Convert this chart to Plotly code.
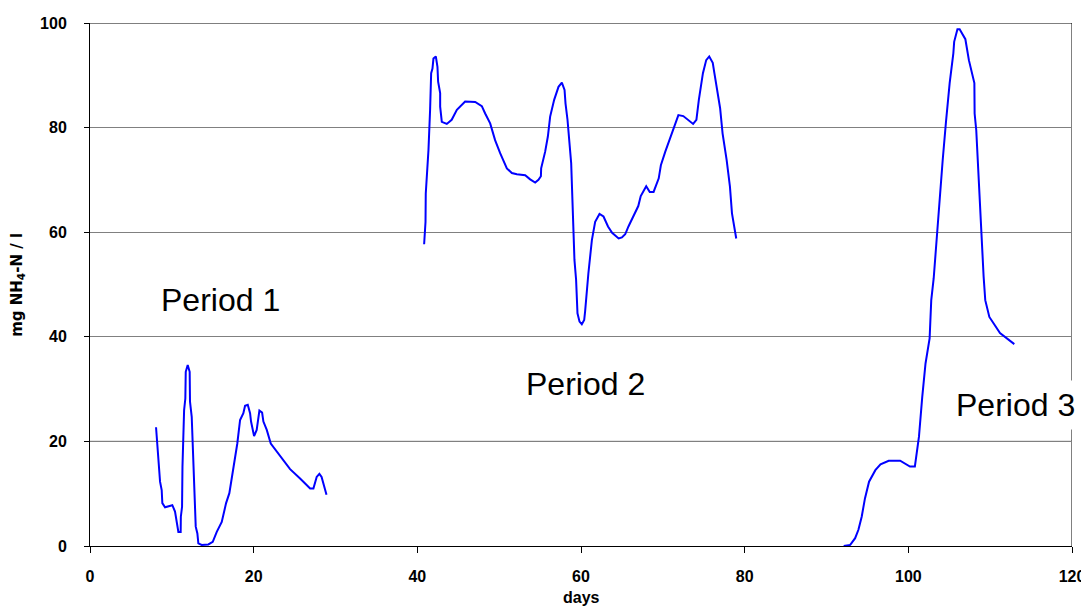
import plotly.graph_objects as go

# Period 1
p1_days = [8.07, 8.56, 8.76, 8.84, 9.17, 9.78, 10.06, 10.39, 10.6, 10.8, 11.08, 11.1, 11.25, 11.3,
           11.5, 11.65, 11.7, 11.94, 12.18, 12.22, 12.43, 12.63, 12.84, 12.92, 13.12, 13.24, 13.65,
           14.46, 15.0, 15.49, 16.1, 16.63, 17.03, 17.52, 18.0, 18.34, 18.74, 18.95, 19.28, 19.56,
           19.68, 20.05, 20.37, 20.7, 21.03, 21.19, 21.6, 22.09, 23.2, 24.45, 25.67, 26.9, 27.3,
           27.7, 28.03, 28.3, 28.9]
p1_vals = [22.7, 12.3, 10.7, 8.2, 7.4, 7.7, 7.8, 6.6, 4.3, 2.7, 2.7, 5.6, 7.5, 15.2,
           26.0, 28.2, 33.3, 34.6, 33.3, 27.6, 24.7, 15.2, 9.4, 3.7, 2.4, 0.5, 0.2,
           0.3, 0.8, 2.7, 4.6, 8.2, 10.1, 14.9, 19.6, 24.1, 25.4, 26.8, 27.0, 25.4,
           23.8, 21.0, 22.2, 25.9, 25.5, 23.8, 22.2, 19.6, 17.4, 14.7, 12.9, 11.0, 11.0,
           13.2, 13.8, 13.2, 9.8]

# Period 2
p2_days = [40.83, 41.0, 41.03, 41.36, 41.56, 41.69, 41.85, 41.97, 42.26, 42.46, 42.54, 42.79, 42.79,
           42.99, 43.6, 44.2, 44.83, 45.84, 47.07, 47.88, 48.29, 48.9, 49.5, 50.12, 50.94, 51.55,
           52.16, 53.18, 53.79, 54.4, 54.8, 55.1, 55.13, 55.62, 55.95, 56.23, 56.72, 57.25, 57.66,
           57.99, 58.11, 58.35, 58.8, 59.0, 59.2, 59.4, 59.57, 59.82, 60.1, 60.39, 60.5, 60.9,
           61.33, 61.73, 62.26, 62.75, 63.3, 63.8, 64.6, 65.0, 65.4, 65.8, 66.4, 67.0, 67.3,
           67.97, 68.4, 68.87, 69.5, 69.76, 70.3, 70.9, 71.5, 71.9, 72.5, 73.1, 73.7, 74.1,
           74.4, 74.9, 75.3, 75.67, 76.1, 76.3, 76.6, 77.0, 77.3, 77.8, 78.2, 78.45, 78.97]
p2_vals = [57.7, 62.0, 67.4, 75.7, 83.4, 90.4, 91.3, 93.2, 93.6, 91.6, 88.8, 86.6, 84.0,
           81.1, 80.7, 81.5, 83.4, 85.0, 84.9, 84.1, 82.7, 80.8, 77.6, 75.1, 72.2, 71.3,
           71.1, 70.9, 70.1, 69.5, 70.0, 70.7, 72.2, 75.4, 78.3, 82.1, 85.3, 87.8, 88.6,
           87.2, 84.6, 81.5, 73.2, 64.9, 54.7, 50.9, 44.5, 42.9, 42.4, 43.2, 44.8, 52.1,
           58.5, 62.0, 63.5, 63.0, 61.1, 59.9, 58.8, 59.0, 59.6, 61.1, 63.0, 65.0, 66.9,
           68.8, 67.7, 67.7, 70.3, 72.8, 75.4, 78.0, 80.5, 82.4, 82.2, 81.5, 80.7, 81.5,
           85.3, 90.4, 92.9, 93.6, 92.4, 90.4, 87.8, 83.7, 78.9, 73.8, 68.7, 63.6, 58.8]

# Period 3
p3_days = [92.1, 92.9, 93.5, 93.9, 94.3, 94.7, 95.2, 95.55, 95.97, 96.6, 97.6, 99.0, 99.76,
           100.2, 100.8, 101.3, 101.7, 102.1, 102.6, 102.8, 103.1, 103.5, 103.8, 104.2, 104.6,
           105.05, 105.5, 105.6, 106.0, 106.27, 106.97, 107.4, 108.07, 108.1, 108.3, 108.8,
           109.2, 109.4, 109.9, 111.2, 112.95]
p3_vals = [0.0, 0.2, 1.5, 3.1, 5.6, 9.1, 12.3, 13.3, 14.5, 15.6, 16.3, 16.3, 15.5,
           15.2, 15.2, 20.9, 28.5, 34.9, 39.7, 47.0, 51.2, 59.8, 65.2, 73.8, 81.1,
           88.5, 94.2, 96.4, 98.8, 98.8, 96.9, 92.9, 88.5, 82.7, 79.5, 62.3,
           51.5, 47.0, 43.8, 40.7, 38.6]

x_ticks = [0, 20, 40, 60, 80, 100, 120]
y_ticks = [0, 20, 40, 60, 80, 100]

fig = go.Figure()
for d, v in [(p1_days, p1_vals), (p2_days, p2_vals), (p3_days, p3_vals)]:
    fig.add_trace(go.Scatter(x=d, y=v, mode="lines",
                             line=dict(color="#0000FF", width=2), showlegend=False))

# right border and darker lines
fig.add_shape(type="line", xref="x", yref="y", x0=120, x1=120, y0=0, y1=100,
              line=dict(color="#808080", width=2), layer="below")
fig.add_shape(type="line", xref="x", yref="y", x0=0, x1=120, y0=100, y1=100,
              line=dict(color="black", width=1), layer="below")
fig.add_shape(type="line", xref="x", yref="y", x0=0, x1=120, y0=20, y1=20,
              line=dict(color="black", width=1), layer="below")

txt = dict(family="Liberation Sans", size=32, color="black")
fig.add_annotation(x=16.0, y=47, text="Period 1", showarrow=False, font=txt)
fig.add_annotation(x=60.5, y=31, text="Period 2", showarrow=False, font=txt)
fig.add_annotation(x=113.1, y=27, text="Period 3", showarrow=False, font=txt,
                   bgcolor="white", borderpad=6)

# axis titles
bold = dict(family="Liberation Sans", size=16, color="black", weight="bold")
fig.add_annotation(xref="paper", yref="paper", x=0.5, y=-0.099, yanchor="middle",
                   text="days", showarrow=False, font=bold)
fig.add_annotation(xref="paper", yref="paper", x=-0.074, y=0.5, xanchor="center",
                   text="mg NH<sub>4</sub>-N / l", textangle=-90, showarrow=False,
                   font=dict(family="DejaVu Sans", size=15, color="black",
                             weight="bold"))

fig.update_xaxes(range=[0, 120], tickvals=x_ticks, showgrid=False, showline=True,
                 linecolor="black", linewidth=1, ticks="outside", ticklen=6,
                 tickcolor="black", tickfont=bold, ticklabelstandoff=10,
                 zeroline=False, automargin=False)
fig.update_yaxes(range=[0, 100], tickvals=y_ticks, showgrid=True,
                 gridcolor="#808080", gridwidth=1, showline=True, linecolor="black",
                 linewidth=1, ticks="outside", ticklen=5, tickcolor="black",
                 tickfont=bold, ticklabelstandoff=14, zeroline=False, automargin=False)

# page body adds an 8px offset, so margins are shifted to compensate
fig.update_layout(width=1089, height=608, plot_bgcolor="white", paper_bgcolor="white",
                  margin=dict(l=82, r=25, t=15, b=70))

fig.write_html("out.html")
